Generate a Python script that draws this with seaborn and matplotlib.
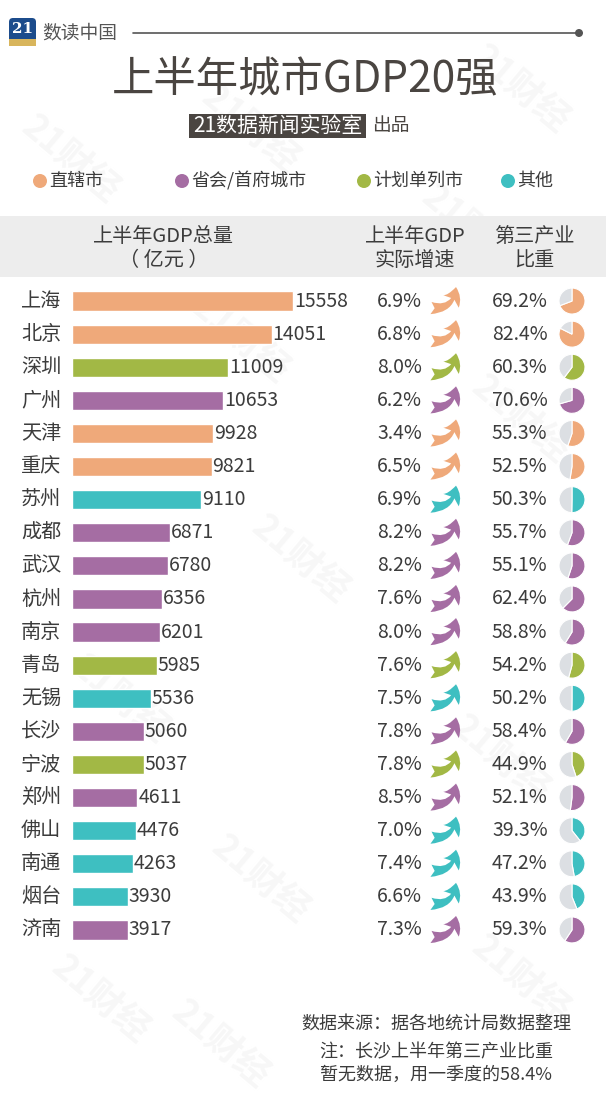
import numpy as np
import pandas as pd
import seaborn as sns
import matplotlib.pyplot as plt
from matplotlib.patches import Wedge, FancyArrowPatch, FancyBboxPatch, Rectangle, Circle

# data
cities = ['上海', '北京', '深圳', '广州', '天津', '重庆', '苏州', '成都', '武汉', '杭州',
          '南京', '青岛', '无锡', '长沙', '宁波', '郑州', '佛山', '南通', '烟台', '济南']
gdp = [15558, 14051, 11009, 10653, 9928, 9821, 9110, 6871, 6780, 6356,
       6201, 5985, 5536, 5060, 5037, 4611, 4476, 4263, 3930, 3917]
growth = [6.9, 6.8, 8.0, 6.2, 3.4, 6.5, 6.9, 8.2, 8.2, 7.6,
          8.0, 7.6, 7.5, 7.8, 7.8, 8.5, 7.0, 7.4, 6.6, 7.3]
tertiary = [69.2, 82.4, 60.3, 70.6, 55.3, 52.5, 50.3, 55.7, 55.1, 62.4,
            58.8, 54.2, 50.2, 58.4, 44.9, 52.1, 39.3, 47.2, 43.9, 59.3]
city_type = ['直辖市', '直辖市', '计划单列市', '省会/首府城市', '直辖市', '直辖市', '其他',
             '省会/首府城市', '省会/首府城市', '省会/首府城市', '省会/首府城市', '计划单列市',
             '其他', '省会/首府城市', '计划单列市', '省会/首府城市', '其他', '其他', '其他',
             '省会/首府城市']
types = ['直辖市', '省会/首府城市', '计划单列市', '其他']
type_colors = ['#EFA97A', '#A56DA3', '#A2B845', '#3EBFC1']

df = pd.DataFrame({'city': cities, 'gdp': gdp, 'growth': growth,
                   'tertiary': tertiary, 'type': city_type})
palette = dict(zip(types, type_colors))

sns.set_theme(style='white')
plt.rcParams['font.family'] = ['Noto Sans CJK SC', 'DejaVu Sans']

W, H = 606, 1108
fig = plt.figure(figsize=(W / 100, H / 100), dpi=100)
fig.patch.set_facecolor('white')

# overlay axes in pixel coordinates
ov = fig.add_axes([0, 0, 1, 1])
ov.set_xlim(0, W)
ov.set_ylim(H, 0)
ov.axis('off')

txt = '#3c3c3c'

# faint watermarks
for wx, wy in [(70, 160), (250, 130), (520, 90), (470, 230), (240, 340), (520, 420),
               (300, 560), (120, 700), (500, 760), (260, 880), (100, 1000), (220, 1045), (520, 980)]:
    ov.text(wx, wy, '21财经', fontsize=26, color='#f7f7f7', rotation=-40,
            ha='center', va='center', fontweight='bold', zorder=0)

# logo and top line
ov.add_patch(FancyBboxPatch((9, 18), 27, 28, boxstyle='round,pad=0,rounding_size=4',
                            fc='#1c4c8c', ec='none', zorder=2))
ov.add_patch(Rectangle((9, 39), 27, 7, fc='#d8b55c', ec='none', zorder=3))
ov.text(22.5, 29, '21', fontsize=11, color='white', fontweight='bold',
        family='DejaVu Serif', ha='center', va='center', zorder=4)
ov.text(42, 33, '数读中国', fontsize=13.5, color='#555555', ha='left', va='center')
ov.plot([133, 578], [33, 33], color='#555555', lw=1.2)
ov.add_patch(Circle((579, 33), 4, fc='#555555', ec='none'))

# title
ov.text(305, 80, '上半年城市GDP20强', fontsize=30.5, color='#4a4541',
        ha='center', va='center')
ov.add_patch(Rectangle((189, 114), 177, 24, fc='#4a4541', ec='none'))
ov.text(277.5, 126, '21数据新闻实验室', fontsize=15, color='white', ha='center', va='center')
ov.text(372, 126, '出品', fontsize=13.5, color='#4a4541', ha='left', va='center')

# legend
leg_x = [40, 182, 364, 508]
for lx, t, c in zip(leg_x, types, type_colors):
    ov.add_patch(Circle((lx, 181), 7, fc=c, ec='none'))
    ov.text(lx + 9, 181, t, fontsize=13, color=txt, ha='left', va='center')

# header band
ov.add_patch(Rectangle((0, 216), W, 61, fc='#ededed', ec='none'))
ov.text(163, 237, '上半年GDP总量', fontsize=14.5, color=txt, ha='center', va='center')
ov.text(164, 261, '（ 亿元 ）', fontsize=14.5, color=txt, ha='center', va='center')
ov.text(415, 237, '上半年GDP', fontsize=14.5, color=txt, ha='center', va='center')
ov.text(415, 261, '实际增速', fontsize=14.5, color=txt, ha='center', va='center')
ov.text(534, 237, '第三产业', fontsize=14.5, color=txt, ha='center', va='center')
ov.text(534, 261, '比重', fontsize=14.5, color=txt, ha='center', va='center')

# row geometry (pixels)
top, pitch = 284.5, 33.1
n = len(cities)
row_y = top + pitch * (np.arange(n) + 0.5)

# bar axes
bar_left, bar_w = 72, 284.1
bx = fig.add_axes([bar_left / W, 1 - (top + pitch * n) / H, bar_w / W, pitch * n / H])
bx.patch.set_alpha(0)
sns.barplot(data=df, x='gdp', y='city', hue='type', palette=palette, dodge=False,
            width=0.58, saturation=1, legend=False, ax=bx)
bx.set_xlim(0, 20000)
bx.set_ylim(n - 0.5, -0.5)
bx.axis('off')
for i, v in enumerate(gdp):
    bx.text(v + 60, i, f'{v}', fontsize=14, color=txt, ha='left', va='center')

for i, row in df.iterrows():
    y = row_y[i]
    c = palette[row['type']]
    ov.text(41, y, row['city'], fontsize=14.5, color=txt, ha='center', va='center')
    ov.text(377, y, f"{row['growth']:.1f}%", fontsize=14, color=txt, ha='left', va='center')
    arr = FancyArrowPatch((431, y + 7), (456, y - 14), connectionstyle='arc3,rad=0.5',
                          arrowstyle='fancy,head_length=0.5,head_width=0.65,tail_width=0.4',
                          mutation_scale=22, fc=c, ec='none', shrinkA=0, shrinkB=0)
    ov.add_patch(arr)
    ov.text(492, y, f"{row['tertiary']:.1f}%", fontsize=14, color=txt, ha='left', va='center')
    p = row['tertiary'] / 100
    cx, r = 572, 13
    ov.add_patch(Wedge((cx, y), r, 270, 270 + 360 * p, fc=c, ec='white', lw=0.8))
    ov.add_patch(Wedge((cx, y), r, 270 + 360 * p, 270 + 360, fc='#dcdfe3', ec='white', lw=0.8))

# footer
ov.text(436, 1024, '数据来源：据各地统计局数据整理', fontsize=13, color=txt, ha='center', va='center')
ov.text(436, 1052, '注：长沙上半年第三产业比重', fontsize=13, color=txt, ha='center', va='center')
ov.text(436, 1075, '暂无数据，用一季度的58.4%', fontsize=13, color=txt, ha='center', va='center')

fig.savefig('out.png', dpi=100, facecolor='white')
